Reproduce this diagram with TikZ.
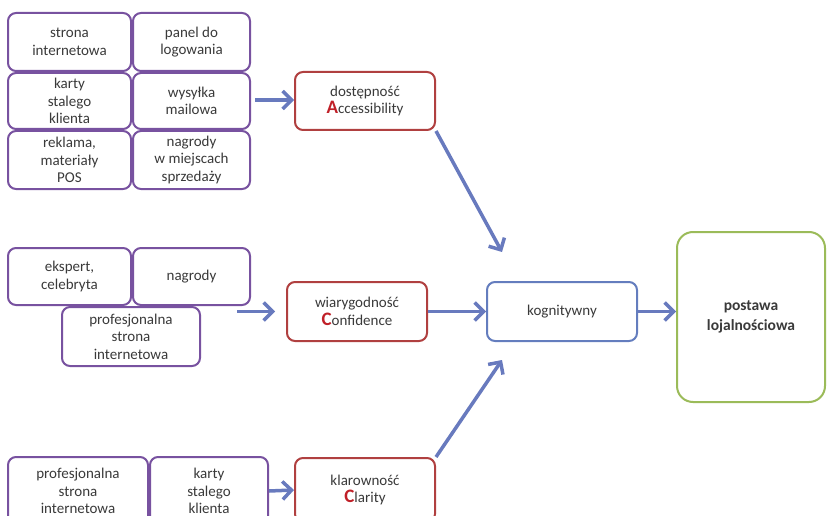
\documentclass[tikz,border=0pt]{standalone}
\usepackage{fontspec}
\setmainfont{Carlito}
\usetikzlibrary{arrows.meta}
\definecolor{purp}{RGB}{120,82,160}
\definecolor{redb}{RGB}{176,64,64}
\definecolor{blueb}{RGB}{100,125,190}
\definecolor{greenb}{RGB}{155,187,89}
\definecolor{arr}{RGB}{104,122,190}
\definecolor{txt}{RGB}{58,58,58}
\definecolor{redl}{RGB}{192,32,40}
\newcommand{\BigL}[1]{{\color{redl}\bfseries\fontsize{19}{17}\selectfont #1}}
\begin{document}
\begin{tikzpicture}[x=1pt,y=-1pt,
  base/.style={rectangle,rounded corners=8pt,fill=white,align=center,text=txt,
    font=\fontsize{15}{17.5}\selectfont,inner sep=0pt},
  pbox/.style={base,draw=purp,line width=2pt},
  rbox/.style={base,draw=redb,line width=2pt},
  bbox/.style={base,draw=blueb,line width=2pt},
  gbox/.style={base,draw=greenb,line width=2pt,rounded corners=16pt},
  conn/.style={draw=arr,line width=3.5pt,-{Straight Barb[length=9pt,width=18pt,line width=3.5pt]}}]
\useasboundingbox (0,0) rectangle (827,516);
\begin{scope}
\clip (0,0) rectangle (827,516);
% group 1
\node[pbox,minimum width=123,minimum height=58] (g1a) at (69.5,42) {strona\\internetowa};
\node[pbox,minimum width=117,minimum height=58] (g1b) at (191.5,42) {panel do\\logowania};
\node[pbox,minimum width=123,minimum height=56] (g1c) at (69.5,101) {karty\\stalego\\klienta};
\node[pbox,minimum width=117,minimum height=56] (g1d) at (191.5,101) {wysyłka\\mailowa};
\node[pbox,minimum width=123,minimum height=58] (g1e) at (69.5,160) {reklama,\\materiały\\POS};
\node[pbox,minimum width=117,minimum height=58] (g1f) at (191.5,160) {nagrody\\w miejscach\\sprzedaży};
% group 2
\node[pbox,minimum width=123,minimum height=57] (g2a) at (69.5,276.5) {ekspert,\\celebryta};
\node[pbox,minimum width=117,minimum height=57] (g2b) at (191.5,276.5) {nagrody};
\node[pbox,minimum width=138,minimum height=59] (g2c) at (131,336.5) {profesjonalna\\strona\\internetowa};
% group 3
\node[pbox,minimum width=140,minimum height=68] (g3a) at (78,491) {profesjonalna\\strona\\internetowa};
\node[pbox,minimum width=118,minimum height=68] (g3b) at (209,491) {karty\\stalego\\klienta};
% middle
\node[rbox,minimum width=140,minimum height=58] (acc) at (365,101) {dostępność\\\BigL{A}ccessibility};
\node[rbox,minimum width=140,minimum height=59] (conf) at (357,311.5) {wiarygodność\\\BigL{C}onfidence};
\node[rbox,minimum width=140,minimum height=64] (clar) at (365,490) {klarowność\\\BigL{C}larity};
\node[bbox,minimum width=150,minimum height=59] (kog) at (562,311.5) {kognitywny};
\node[gbox,minimum width=148,minimum height=170,font=\bfseries\fontsize{15.5}{20}\selectfont] (post) at (751,317) {postawa\\lojalnościowa};
% connectors
\coordinate (s1) at (255,100);
\coordinate (s2) at (237,311.5);
\coordinate (t1) at (502,252);
\coordinate (t2) at (502,360);
\draw[conn] (s1) -- (s1 -| acc.west);
\draw[conn] (s2) -- ([xshift=-11pt]conf.west);
\draw[conn] (g3b.east) -- (clar.west);
\draw[conn] (conf.east) -- (kog.west);
\draw[conn] (kog.east) -- (kog.east -| post.west);
\draw[conn] (acc.south east) -- (t1);
\draw[conn] (clar.north east) -- (t2);
\end{scope}
\end{tikzpicture}
\end{document}
